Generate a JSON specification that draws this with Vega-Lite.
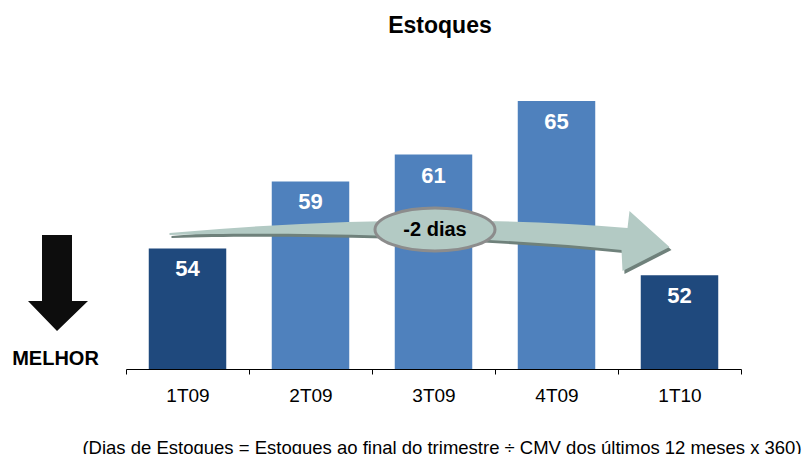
{
  "$schema": "https://vega.github.io/schema/vega-lite/v6.json",
  "width": 615,
  "height": 335,
  "autosize": "none",
  "padding": {"left": 126, "top": 34, "right": 63, "bottom": 85},
  "background": "white",
  "config": {"view": {"stroke": null}, "font": "Liberation Sans"},
  "title": {"text": "Estoques", "fontSize": 23, "fontWeight": "bold", "font": "Liberation Sans", "color": "#000000", "anchor": "middle", "dx": 6.5, "offset": -4},
  "data": {"values": [
    {"trimestre": "1T09", "dias": 54, "grupo": "primeiro"},
    {"trimestre": "2T09", "dias": 59, "grupo": "demais"},
    {"trimestre": "3T09", "dias": 61, "grupo": "demais"},
    {"trimestre": "4T09", "dias": 65, "grupo": "demais"},
    {"trimestre": "1T10", "dias": 52, "grupo": "primeiro"}
  ]},
  "layer": [
    {
      "mark": {"type": "bar", "width": {"band": 0.63}},
      "encoding": {
        "x": {"field": "trimestre", "type": "nominal", "sort": null,
          "scale": {"domain": ["1T09", "2T09", "3T09", "4T09", "1T10"], "paddingInner": 0, "paddingOuter": 0},
          "axis": {
            "title": "(Dias de Estoques = Estoques ao final do trimestre ÷ CMV dos últimos 12 meses x 360)",
            "titleFontSize": 18.5, "titleFont": "Liberation Sans", "titleFontWeight": "normal", "titleColor": "#000000",
            "titleX": 315.5, "titleY": 78, "titleBaseline": "middle", "titleAlign": "center",
            "labelAngle": 0, "labelFontSize": 19, "labelFont": "Liberation Sans", "labelColor": "#000000", "labelPadding": 12,
            "tickBand": "extent", "tickSize": 5, "tickColor": "#000000", "domainColor": "#000000", "grid": false
          }
        },
        "y": {"field": "dias", "type": "quantitative", "scale": {"domain": [45, 70], "zero": false, "nice": false}, "axis": null},
        "y2": {"datum": 45},
        "color": {"field": "grupo", "type": "nominal", "scale": {"domain": ["primeiro", "demais"], "range": ["#1F497D", "#4F81BD"]}, "legend": null}
      }
    },
    {
      "mark": {"type": "text", "color": "#FFFFFF", "fontWeight": "bold", "fontSize": 22, "baseline": "middle", "dy": 21, "font": "Liberation Sans"},
      "encoding": {
        "x": {"field": "trimestre", "type": "nominal", "sort": null},
        "y": {"field": "dias", "type": "quantitative"},
        "text": {"field": "dias", "type": "quantitative"}
      }
    },
    {
      "data": {"values": [{"anotacao": "-2 dias", "legenda": "MELHOR"}]},
      "layer": [
        {
          "mark": {"type": "point", "shape": "M -262 14.4 Q -12 -7.6 196 9.4 L 198 -7.6 L 238 28.4 L 191 52.4 L 190 31.4 C 68 18.4 -132 12.4 -262 16.4 Z", "size": 4, "filled": true, "color": "#6F817B", "opacity": 1, "strokeWidth": 0},
          "encoding": {"x": {"datum": "3T09"}, "y": {"datum": 56}}
        },
        {
          "mark": {"type": "point", "shape": "M -264 11.4 Q -14 -10.6 194 6.4 L 196 -10.6 L 236 25.4 L 189 49.4 L 188 28.4 C 66 15.4 -134 9.4 -264 13.4 Z", "size": 4, "filled": true, "color": "#B3CAC4", "opacity": 1, "strokeWidth": 0},
          "encoding": {"x": {"datum": "3T09"}, "y": {"datum": 56}}
        },
        {
          "mark": {"type": "point", "shape": "M -58.5 7.9 C -58.5 -3.97 -31.64 -13.6 1.5 -13.6 C 34.64 -13.6 61.5 -3.97 61.5 7.9 C 61.5 19.77 34.64 29.4 1.5 29.4 C -31.64 29.4 -58.5 19.77 -58.5 7.9 Z", "size": 4, "filled": true, "color": "#B3CAC4", "opacity": 1, "stroke": "#8C8C8C", "strokeWidth": 3},
          "encoding": {"x": {"datum": "3T09"}, "y": {"datum": 56}}
        },
        {
          "mark": {"type": "text", "fontSize": 20, "fontWeight": "bold", "color": "#000000", "baseline": "middle", "align": "center", "dx": 1.5, "dy": 8.4, "font": "Liberation Sans"},
          "encoding": {"x": {"datum": "3T09"}, "y": {"datum": 56}, "text": {"field": "anotacao"}}
        },
        {
          "mark": {"type": "point", "shape": "M -145.5 -53.6 L -115.5 -53.6 L -115.5 12.4 L -99.5 12.4 L -130.5 42.4 L -159.5 12.4 L -145.5 12.4 Z", "size": 4, "filled": true, "color": "#0D0D0D", "opacity": 1, "strokeWidth": 0},
          "encoding": {"x": {"datum": "1T09"}, "y": {"datum": 51}}
        },
        {
          "mark": {"type": "text", "fontSize": 20, "fontWeight": "bold", "color": "#000000", "baseline": "alphabetic", "align": "center", "dx": -132, "dy": -4, "font": "Liberation Sans"},
          "encoding": {"x": {"datum": "1T09"}, "y": {"datum": 45}, "text": {"field": "legenda"}}
        }
      ]
    }
  ]
}
